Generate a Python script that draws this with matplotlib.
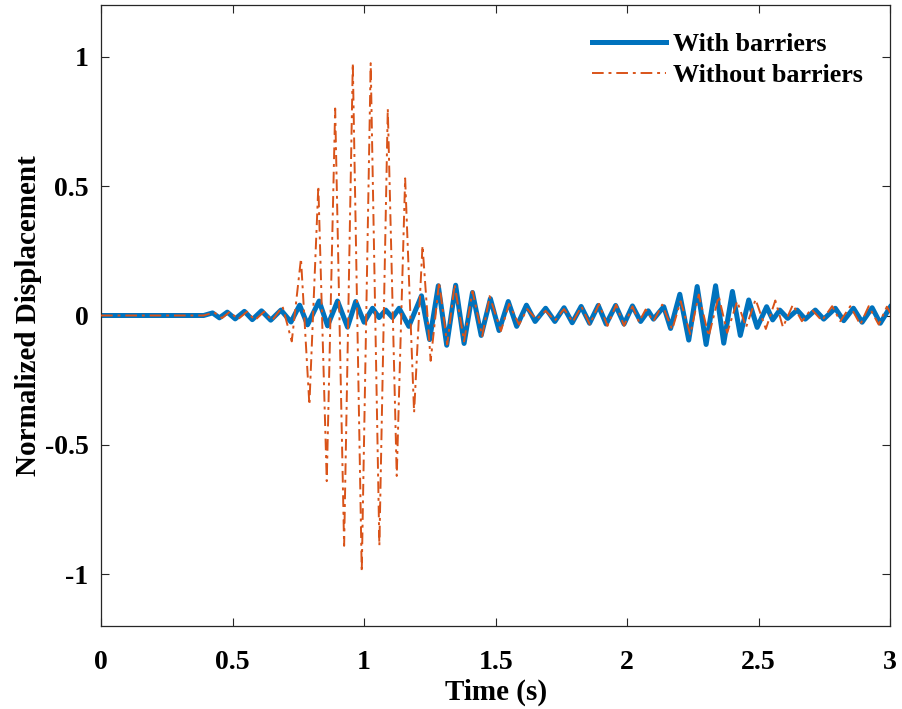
import numpy as np
import matplotlib
matplotlib.use('Agg')
import matplotlib.pyplot as plt

# extrema (time in s, normalized displacement)
t_with = [0.0, 0.39, 0.424, 0.45, 0.48, 0.51, 0.545, 0.575, 0.61, 0.645, 0.684, 0.722,
          0.755, 0.785, 0.829, 0.861, 0.899, 0.937, 0.968, 1.0, 1.032, 1.057, 1.082, 1.108,
          1.133, 1.17, 1.218, 1.249, 1.282, 1.314, 1.348, 1.38, 1.412, 1.445, 1.48, 1.513,
          1.548, 1.58, 1.617, 1.65, 1.69, 1.725, 1.76, 1.791, 1.825, 1.857, 1.89, 1.92,
          1.956, 1.988, 2.02, 2.051, 2.08, 2.1, 2.139, 2.165, 2.2, 2.234, 2.266, 2.3,
          2.336, 2.367, 2.4, 2.43, 2.462, 2.494, 2.53, 2.553, 2.58, 2.61, 2.646, 2.677,
          2.715, 2.747, 2.791, 2.823, 2.86, 2.893, 2.931, 2.962, 3.0]
d_with = [0.0, 0.0, 0.010, -0.009, 0.013, -0.013, 0.016, -0.016, 0.018, -0.018, 0.021, -0.025,
          0.040, -0.036, 0.056, -0.040, 0.056, -0.045, 0.054, -0.026, 0.028, -0.008, 0.021, -0.008,
          0.028, -0.042, 0.076, -0.093, 0.115, -0.115, 0.117, -0.108, 0.089, -0.077, 0.065, -0.058,
          0.054, -0.042, 0.040, -0.023, 0.028, -0.023, 0.030, -0.028, 0.035, -0.030, 0.039, -0.033,
          0.039, -0.033, 0.037, -0.023, 0.018, -0.014, 0.034, -0.050, 0.082, -0.095, 0.112, -0.112,
          0.115, -0.107, 0.093, -0.077, 0.060, -0.046, 0.034, -0.017, 0.021, -0.011, 0.021, -0.014,
          0.021, -0.014, 0.028, -0.020, 0.028, -0.026, 0.030, -0.030, 0.033]

t_without = [0.0, 0.39, 0.43, 0.46, 0.49, 0.52, 0.555, 0.585, 0.62, 0.65, 0.69, 0.725,
             0.76, 0.792, 0.826, 0.858, 0.89, 0.924, 0.957, 0.991, 1.025, 1.058, 1.09, 1.124,
             1.156, 1.19, 1.222, 1.253, 1.285, 1.316, 1.344, 1.38, 1.412, 1.449, 1.477, 1.52,
             1.551, 1.589, 1.62, 1.655, 1.69, 1.725, 1.76, 1.793, 1.826, 1.858, 1.893, 1.925,
             1.958, 1.988, 2.02, 2.045, 2.07, 2.1, 2.133, 2.171, 2.203, 2.24, 2.272, 2.31,
             2.348, 2.38, 2.418, 2.452, 2.488, 2.527, 2.563, 2.592, 2.63, 2.664, 2.7, 2.74,
             2.779, 2.81, 2.848, 2.886, 2.918, 2.956, 2.987, 3.0]
d_without = [0.0, 0.0, 0.012, -0.010, 0.015, -0.015, 0.015, -0.018, 0.015, -0.020, 0.035, -0.10,
             0.22, -0.345, 0.50, -0.64, 0.80, -0.89, 0.975, -0.99, 0.975, -0.89, 0.80, -0.62,
             0.53, -0.375, 0.27, -0.175, 0.13, -0.112, 0.12, -0.10, 0.094, -0.08, 0.075, -0.06,
             0.045, -0.035, 0.025, -0.015, 0.018, -0.020, 0.025, -0.025, 0.035, -0.035, 0.045, -0.040,
             0.042, -0.040, 0.035, -0.025, 0.023, -0.022, 0.042, -0.054, 0.055, -0.073, 0.081, -0.080,
             0.075, -0.067, 0.055, -0.045, 0.062, -0.052, 0.058, -0.045, 0.042, -0.022, 0.025, -0.020,
             0.036, -0.022, 0.036, -0.035, 0.036, -0.035, 0.034, 0.010]

x_ticks = [0, 0.5, 1, 1.5, 2, 2.5, 3]
x_labels = ['0', '0.5', '1', '1.5', '2', '2.5', '3']
y_ticks = [-1, -0.5, 0, 0.5, 1]
y_labels = ['-1', '-0.5', '0', '0.5', '1']

plt.rcParams['font.family'] = ['Liberation Serif', 'DejaVu Serif']
plt.rcParams['font.weight'] = 'bold'

fig = plt.figure(figsize=(9.02, 7.09), dpi=100)
ax = fig.add_axes([0.112, 0.117, 0.875, 0.876])

ax.plot(t_with, d_with, color='#0072BD', lw=3.6, label='With barriers', zorder=2)
ax.plot(t_without, d_without, color='#D95319', lw=1.4, dashes=(6, 2.5, 1.5, 2.5),
        label='Without barriers', zorder=3)

ax.set_xlim(0, 3)
ax.set_ylim(-1.2, 1.2)
ax.set_xticks(x_ticks)
ax.set_xticklabels(x_labels)
ax.set_yticks(y_ticks)
ax.set_yticklabels(y_labels)
ax.tick_params(direction='in', length=6, width=0.8, labelsize=20, color='#262626',
               top=True, right=True)
ax.tick_params(axis='x', pad=17)
ax.tick_params(axis='y', pad=9)
for s in ax.spines.values():
    s.set_color('#262626')
    s.set_linewidth(0.9)

ax.set_xlabel('Time (s)', fontsize=21, fontweight='bold', labelpad=3)
ax.set_ylabel('Normalized Displacement', fontsize=21, fontweight='bold', labelpad=2)

ax.legend(loc='upper right', frameon=False, fontsize=18.8, handlelength=2.8,
          handletextpad=0.3, labelspacing=0.3, borderaxespad=0.0,
          bbox_to_anchor=(0.979, 0.972))

fig.savefig('out.png', dpi=100)
